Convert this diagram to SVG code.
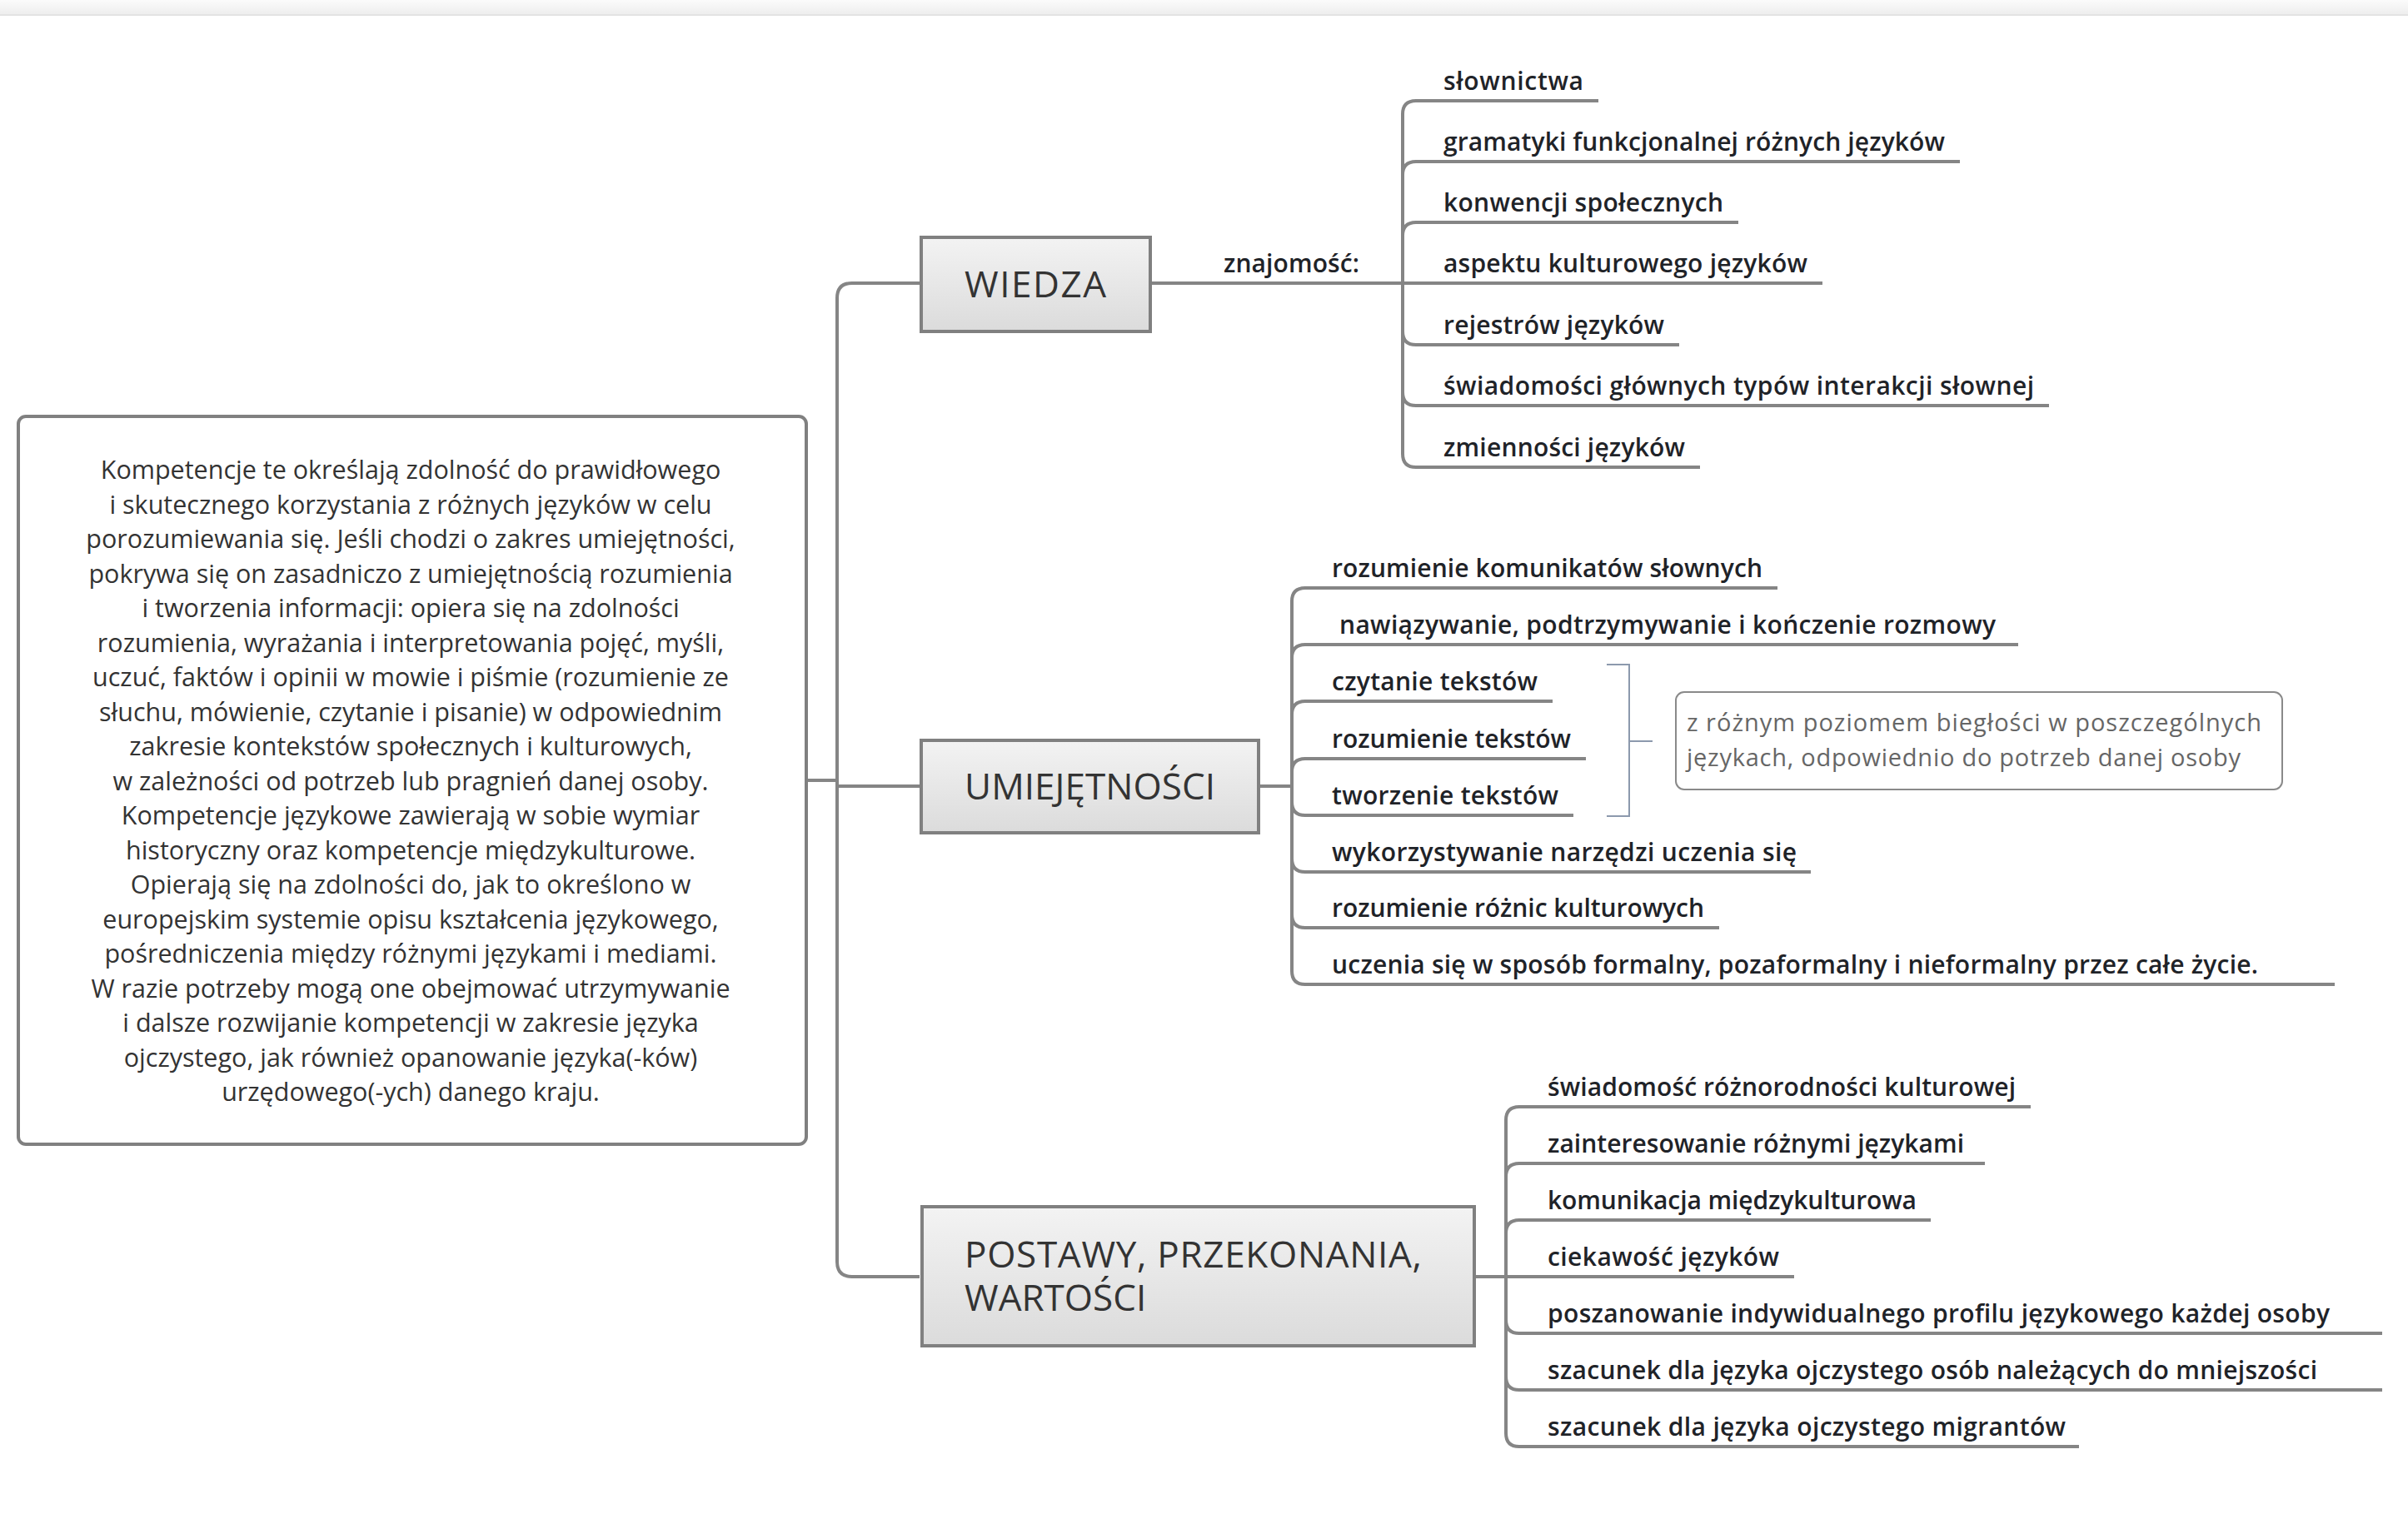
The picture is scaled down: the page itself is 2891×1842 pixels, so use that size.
<svg xmlns="http://www.w3.org/2000/svg" width="2891" height="1842" viewBox="0 0 2891 1842">
<defs>
<linearGradient id="topg" x1="0" y1="0" x2="0" y2="1"><stop offset="0" stop-color="#fbfbfb"/><stop offset="1" stop-color="#ededed"/></linearGradient>
<linearGradient id="boxg" x1="0" y1="0" x2="0" y2="1"><stop offset="0" stop-color="#f3f3f3"/><stop offset="1" stop-color="#dbdbdb"/></linearGradient>
<style>
.conn{fill:none;stroke:#858585;stroke-width:4}
.bracket{fill:none;stroke:#8c99ad;stroke-width:2}
.topic{fill:url(#boxg);stroke:#808080;stroke-width:4}
.title{font-family:"Open Sans","Noto Sans",sans-serif;font-size:44px;font-weight:500;fill:#333333}
.leaf{font-family:"Open Sans","Noto Sans",sans-serif;font-size:30px;font-weight:600;fill:#1f2328}
.desc{font-family:"Open Sans","Noto Sans",sans-serif;font-size:30.5px;fill:#333333;text-anchor:middle}
.note{font-family:"Open Sans","Noto Sans",sans-serif;font-size:29px;fill:#666666}
</style>
</defs>
<rect x="0" y="0" width="2891" height="1842" fill="#ffffff"/>
<rect x="0" y="0" width="2891" height="18" fill="url(#topg)"/>
<line x1="0" y1="18" x2="2891" y2="18" stroke="#e3e3e3" stroke-width="2"/>

<g id="connectors">
<path class="conn" d="M968 937 H1005"/>
<path class="conn" d="M1005 937 V358 Q1005 340 1023 340 H1104"/>
<path class="conn" d="M1005 937 V944 H1104"/>
<path class="conn" d="M1005 937 V1515 Q1005 1533 1023 1533 H1104"/>
<path class="conn" d="M1382 340 H1684"/>
<path class="conn" d="M1684 340 V137 Q1684 121 1700 121 H1919"/>
<path class="conn" d="M1684 340 V210 Q1684 194 1700 194 H2353"/>
<path class="conn" d="M1684 340 V283 Q1684 267 1700 267 H2087"/>
<path class="conn" d="M1684 340 H2188"/>
<path class="conn" d="M1684 340 V398 Q1684 414 1700 414 H2016"/>
<path class="conn" d="M1684 340 V471 Q1684 487 1700 487 H2460"/>
<path class="conn" d="M1684 340 V545 Q1684 561 1700 561 H2041"/>
<path class="conn" d="M1512 944 H1551"/>
<path class="conn" d="M1551 944 V722 Q1551 706 1567 706 H2134"/>
<path class="conn" d="M1551 944 V790 Q1551 774 1567 774 H2423"/>
<path class="conn" d="M1551 944 V858 Q1551 842 1567 842 H1864"/>
<path class="conn" d="M1551 944 V927 Q1551 911 1567 911 H1904"/>
<path class="conn" d="M1551 944 V963 Q1551 979 1567 979 H1889"/>
<path class="conn" d="M1551 944 V1031 Q1551 1047 1567 1047 H2174"/>
<path class="conn" d="M1551 944 V1098 Q1551 1114 1567 1114 H2064"/>
<path class="conn" d="M1551 944 V1166 Q1551 1182 1567 1182 H2803"/>
<path class="conn" d="M1771 1533 H1808"/>
<path class="conn" d="M1808 1533 V1345 Q1808 1329 1824 1329 H2438"/>
<path class="conn" d="M1808 1533 V1413 Q1808 1397 1824 1397 H2383"/>
<path class="conn" d="M1808 1533 V1481 Q1808 1465 1824 1465 H2318"/>
<path class="conn" d="M1808 1533 H2154"/>
<path class="conn" d="M1808 1533 V1585 Q1808 1601 1824 1601 H2860"/>
<path class="conn" d="M1808 1533 V1653 Q1808 1669 1824 1669 H2860"/>
<path class="conn" d="M1808 1533 V1721 Q1808 1737 1824 1737 H2496"/>
<path class="bracket" d="M1929 798 H1956 V980 H1929 M1956 890 H1984"/>
</g>

<g id="description">
<rect x="22" y="500" width="946" height="874" rx="9" fill="#ffffff" stroke="#808080" stroke-width="4"/>
<text class="desc" x="493" y="575">Kompetencje te określają zdolność do prawidłowego</text>
<text class="desc" x="493" y="616.5">i skutecznego korzystania z różnych języków w celu</text>
<text class="desc" x="493" y="658">porozumiewania się. Jeśli chodzi o zakres umiejętności,</text>
<text class="desc" x="493" y="699.5">pokrywa się on zasadniczo z umiejętnością rozumienia</text>
<text class="desc" x="493" y="741">i tworzenia informacji: opiera się na zdolności</text>
<text class="desc" x="493" y="782.5">rozumienia, wyrażania i interpretowania pojęć, myśli,</text>
<text class="desc" x="493" y="824">uczuć, faktów i opinii w mowie i piśmie (rozumienie ze</text>
<text class="desc" x="493" y="865.5">słuchu, mówienie, czytanie i pisanie) w odpowiednim</text>
<text class="desc" x="493" y="907">zakresie kontekstów społecznych i kulturowych,</text>
<text class="desc" x="493" y="948.5">w zależności od potrzeb lub pragnień danej osoby.</text>
<text class="desc" x="493" y="990">Kompetencje językowe zawierają w sobie wymiar</text>
<text class="desc" x="493" y="1031.5">historyczny oraz kompetencje międzykulturowe.</text>
<text class="desc" x="493" y="1073">Opierają się na zdolności do, jak to określono w</text>
<text class="desc" x="493" y="1114.5">europejskim systemie opisu kształcenia językowego,</text>
<text class="desc" x="493" y="1156">pośredniczenia między różnymi językami i mediami.</text>
<text class="desc" x="493" y="1197.5">W razie potrzeby mogą one obejmować utrzymywanie</text>
<text class="desc" x="493" y="1239">i dalsze rozwijanie kompetencji w zakresie języka</text>
<text class="desc" x="493" y="1280.5">ojczystego, jak również opanowanie języka(-ków)</text>
<text class="desc" x="493" y="1322">urzędowego(-ych) danego kraju.</text>
</g>

<g id="wiedza">
<rect class="topic" x="1106" y="285" width="275" height="113"/>
<text class="title" x="1158" y="357" textLength="170">WIEDZA</text>
</g>
<g id="znajomosc">
<text class="leaf" x="1469" y="327" textLength="163">znajomość:</text>
</g>
<g id="umiejetnosci">
<rect class="topic" x="1106" y="889" width="405" height="111"/>
<text class="title" x="1158" y="960" textLength="301">UMIEJĘTNOŚCI</text>
</g>
<g id="postawy">
<rect class="topic" x="1107" y="1449" width="663" height="167"/>
<text class="title"><tspan x="1158" y="1522" textLength="549">POSTAWY, PRZEKONANIA,</tspan><tspan x="1158" y="1574">WARTOŚCI</tspan></text>
</g>

<g id="wiedza-leaves">
<text class="leaf" x="1733" y="108" textLength="168">słownictwa</text>
<text class="leaf" x="1733" y="181" textLength="602">gramatyki funkcjonalnej różnych języków</text>
<text class="leaf" x="1733" y="254" textLength="336">konwencji społecznych</text>
<text class="leaf" x="1733" y="327" textLength="437">aspektu kulturowego języków</text>
<text class="leaf" x="1733" y="401" textLength="265">rejestrów języków</text>
<text class="leaf" x="1733" y="474" textLength="709">świadomości głównych typów interakcji słownej</text>
<text class="leaf" x="1733" y="548" textLength="290">zmienności języków</text>
</g>

<g id="umiejetnosci-leaves">
<text class="leaf" x="1599" y="693" textLength="517">rozumienie komunikatów słownych</text>
<text class="leaf" x="1608" y="761" textLength="788">nawiązywanie, podtrzymywanie i kończenie rozmowy</text>
<text class="leaf" x="1599" y="829" textLength="247">czytanie tekstów</text>
<text class="leaf" x="1599" y="898" textLength="287">rozumienie tekstów</text>
<text class="leaf" x="1599" y="966" textLength="272">tworzenie tekstów</text>
<text class="leaf" x="1599" y="1034" textLength="558">wykorzystywanie narzędzi uczenia się</text>
<text class="leaf" x="1599" y="1101" textLength="447">rozumienie różnic kulturowych</text>
<text class="leaf" x="1599" y="1169" textLength="1112">uczenia się w sposób formalny, pozaformalny i nieformalny przez całe życie.</text>
</g>

<g id="summary">
<rect x="2012" y="831" width="728" height="117" rx="10" fill="#ffffff" stroke="#8a8a8a" stroke-width="2"/>
<text class="note" x="2025" y="878" textLength="690">z różnym poziomem biegłości w poszczególnych</text>
<text class="note" x="2025" y="920" textLength="665">językach, odpowiednio do potrzeb danej osoby</text>
</g>

<g id="postawy-leaves">
<text class="leaf" x="1858" y="1316" textLength="562">świadomość różnorodności kulturowej</text>
<text class="leaf" x="1858" y="1384" textLength="500">zainteresowanie różnymi językami</text>
<text class="leaf" x="1858" y="1452" textLength="443">komunikacja międzykulturowa</text>
<text class="leaf" x="1858" y="1520" textLength="278">ciekawość języków</text>
<text class="leaf" x="1858" y="1588" textLength="939">poszanowanie indywidualnego profilu językowego każdej osoby</text>
<text class="leaf" x="1858" y="1656" textLength="924">szacunek dla języka ojczystego osób należących do mniejszości</text>
<text class="leaf" x="1858" y="1724" textLength="622">szacunek dla języka ojczystego migrantów</text>
</g>
</svg>
